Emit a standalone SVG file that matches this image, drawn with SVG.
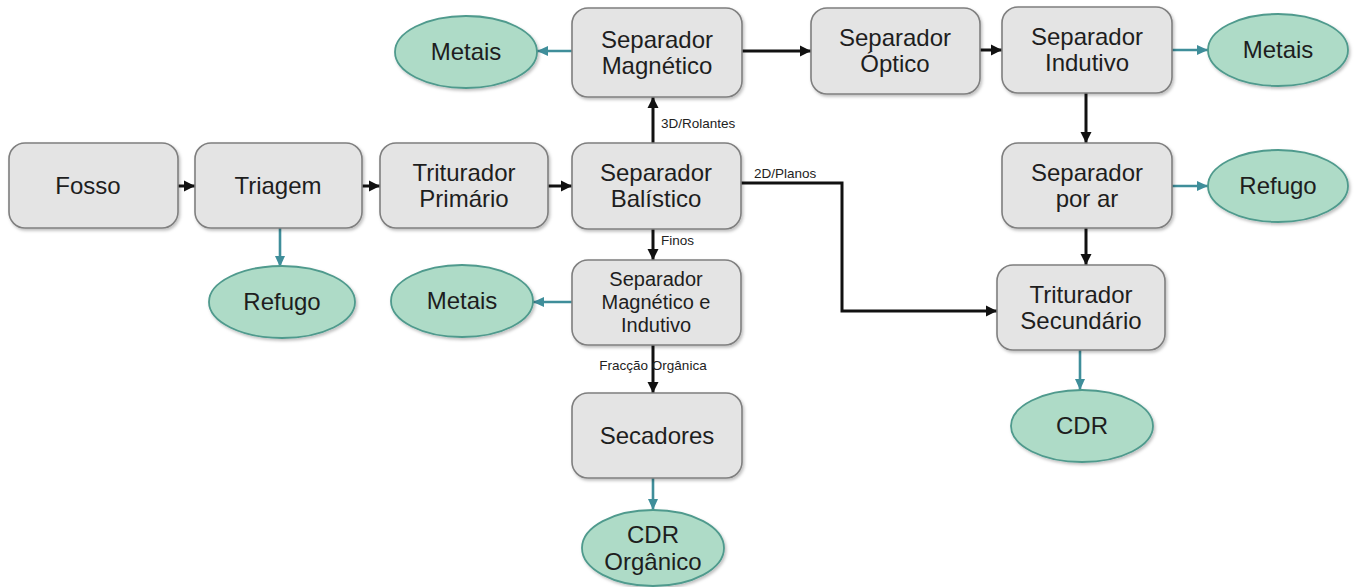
<svg xmlns="http://www.w3.org/2000/svg" width="1357" height="587" viewBox="0 0 1357 587">
<defs>
<style>
.box{fill:#e4e4e4;stroke:#7f7f7f;stroke-width:1.6}
.ell{fill:#aedbc7;stroke:#4f9a8d;stroke-width:1.8}
.t{font-family:"Liberation Sans",Arial,sans-serif;font-size:24px;fill:#1e1e1e;text-anchor:middle}
.ts{font-family:"Liberation Sans",Arial,sans-serif;font-size:20px;fill:#1e1e1e;text-anchor:middle}
.lbl{font-family:"Liberation Sans",Arial,sans-serif;font-size:13.5px;fill:#222}
.bk{fill:none;stroke:#111;stroke-width:3}
.tl{fill:none;stroke:#3f8e9a;stroke-width:2.6}
</style>
<marker id="ab" markerUnits="userSpaceOnUse" markerWidth="12" markerHeight="12" refX="11" refY="6" orient="auto">
<path d="M0,0.5 L11,6 L0,11.5 z" fill="#111"/>
</marker>
<marker id="at" markerUnits="userSpaceOnUse" markerWidth="12" markerHeight="12" refX="11" refY="6" orient="auto">
<path d="M0,1 L11,6 L0,11 z" fill="#3f8e9a"/>
</marker>
<filter id="sh" x="-10%" y="-10%" width="130%" height="130%">
<feDropShadow dx="1.5" dy="2" stdDeviation="1.5" flood-color="#000" flood-opacity="0.25"/>
</filter>
</defs>
<rect width="1357" height="587" fill="#fff"/>

<g id="connectors">
<line class="bk" x1="178" y1="186" x2="195" y2="186" marker-end="url(#ab)"/>
<line class="bk" x1="362" y1="186" x2="380" y2="186" marker-end="url(#ab)"/>
<line class="bk" x1="548" y1="186" x2="572" y2="186" marker-end="url(#ab)"/>
<line class="bk" x1="653" y1="143" x2="653" y2="97" marker-end="url(#ab)"/>
<line class="bk" x1="742" y1="51" x2="811" y2="51" marker-end="url(#ab)"/>
<line class="bk" x1="980" y1="50" x2="1002" y2="50" marker-end="url(#ab)"/>
<line class="bk" x1="1086" y1="93" x2="1086" y2="143" marker-end="url(#ab)"/>
<line class="bk" x1="1086" y1="228" x2="1086" y2="265" marker-end="url(#ab)"/>
<polyline class="bk" points="741,183 842,183 842,311 997,311" marker-end="url(#ab)"/>
<line class="bk" x1="653" y1="229" x2="653" y2="260" marker-end="url(#ab)"/>
<line class="bk" x1="653" y1="345" x2="653" y2="393" marker-end="url(#ab)"/>
<line class="tl" x1="280" y1="228" x2="280" y2="267" marker-end="url(#at)"/>
<line class="tl" x1="572" y1="51" x2="537" y2="51" marker-end="url(#at)"/>
<line class="tl" x1="1172" y1="50" x2="1208" y2="50" marker-end="url(#at)"/>
<line class="tl" x1="1172" y1="186" x2="1208" y2="186" marker-end="url(#at)"/>
<line class="tl" x1="572" y1="302" x2="533" y2="302" marker-end="url(#at)"/>
<line class="tl" x1="653" y1="478" x2="653" y2="510" marker-end="url(#at)"/>
<line class="tl" x1="1080" y1="350" x2="1080" y2="390" marker-end="url(#at)"/>
<text class="lbl" x="661" y="128">3D/Rolantes</text>
<text class="lbl" x="754" y="178">2D/Planos</text>
<text class="lbl" x="661" y="245">Finos</text>
<text class="lbl" x="653" y="370" text-anchor="middle">Fracção Orgânica</text>
</g>

<g id="fosso"><rect class="box" filter="url(#sh)" x="9" y="143" width="169" height="85" rx="16"/><text class="t" x="88" y="194">Fosso</text></g>
<g id="triagem"><rect class="box" filter="url(#sh)" x="195" y="143" width="167" height="85" rx="16"/><text class="t" x="278" y="194">Triagem</text></g>
<g id="triturador-primario"><rect class="box" filter="url(#sh)" x="380" y="143" width="168" height="85" rx="16"/><text class="t" x="464" y="181">Triturador</text><text class="t" x="464" y="207">Primário</text></g>
<g id="separador-balistico"><rect class="box" filter="url(#sh)" x="572" y="143" width="169" height="86" rx="16"/><text class="t" x="656" y="181">Separador</text><text class="t" x="656" y="207">Balístico</text></g>
<g id="separador-magnetico"><rect class="box" filter="url(#sh)" x="572" y="8" width="170" height="89" rx="16"/><text class="t" x="657" y="48">Separador</text><text class="t" x="657" y="74">Magnético</text></g>
<g id="separador-optico"><rect class="box" filter="url(#sh)" x="811" y="8" width="169" height="86" rx="16"/><text class="t" x="895" y="46">Separador</text><text class="t" x="895" y="72">Óptico</text></g>
<g id="separador-indutivo"><rect class="box" filter="url(#sh)" x="1002" y="7" width="170" height="86" rx="16"/><text class="t" x="1087" y="45">Separador</text><text class="t" x="1087" y="71">Indutivo</text></g>
<g id="separador-por-ar"><rect class="box" filter="url(#sh)" x="1002" y="143" width="170" height="85" rx="16"/><text class="t" x="1087" y="181">Separador</text><text class="t" x="1087" y="207">por ar</text></g>
<g id="triturador-secundario"><rect class="box" filter="url(#sh)" x="997" y="265" width="168" height="85" rx="16"/><text class="t" x="1081" y="303">Triturador</text><text class="t" x="1081" y="329">Secundário</text></g>
<g id="separador-magnetico-indutivo"><rect class="box" filter="url(#sh)" x="572" y="260" width="169" height="85" rx="16"/><text class="ts" x="656" y="285.5">Separador</text><text class="ts" x="656" y="308.5">Magnético e</text><text class="ts" x="656" y="331.5">Indutivo</text></g>
<g id="secadores"><rect class="box" filter="url(#sh)" x="572" y="393" width="170" height="85" rx="16"/><text class="t" x="657" y="444">Secadores</text></g>

<g id="metais-1"><ellipse class="ell" filter="url(#sh)" cx="466" cy="52" rx="71" ry="36"/><text class="t" x="466" y="60">Metais</text></g>
<g id="metais-2"><ellipse class="ell" filter="url(#sh)" cx="1278" cy="50" rx="70" ry="36"/><text class="t" x="1278" y="58">Metais</text></g>
<g id="refugo-2"><ellipse class="ell" filter="url(#sh)" cx="1278" cy="186" rx="70" ry="36"/><text class="t" x="1278" y="194">Refugo</text></g>
<g id="refugo-1"><ellipse class="ell" filter="url(#sh)" cx="282" cy="302" rx="73" ry="36"/><text class="t" x="282" y="310">Refugo</text></g>
<g id="metais-3"><ellipse class="ell" filter="url(#sh)" cx="462" cy="301" rx="71" ry="36"/><text class="t" x="462" y="309">Metais</text></g>
<g id="cdr"><ellipse class="ell" filter="url(#sh)" cx="1082" cy="426" rx="71" ry="36"/><text class="t" x="1082" y="434">CDR</text></g>
<g id="cdr-organico"><ellipse class="ell" filter="url(#sh)" cx="653" cy="548" rx="71" ry="38"/><text class="t" x="653" y="543">CDR</text><text class="t" x="653" y="570">Orgânico</text></g>
</svg>
